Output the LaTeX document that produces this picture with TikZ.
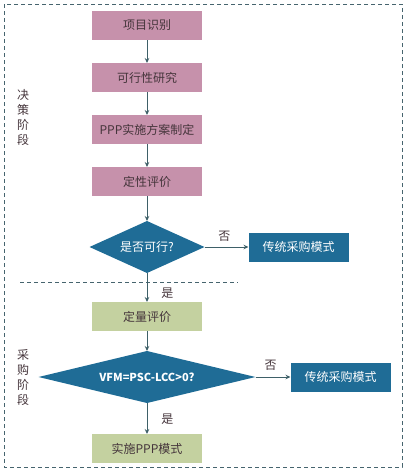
\documentclass[tikz,border=0pt]{standalone}
\usepackage{fontspec}
\setmainfont{Noto Sans CJK SC}
\usepackage{tikz}
\usepackage{xcolor}
\usetikzlibrary{arrows.meta, positioning, shapes.geometric}

\definecolor{pinkbox}{HTML}{C691AB}
\definecolor{greenbox}{HTML}{C4D1A0}
\definecolor{bluebox}{HTML}{1F6C96}
\definecolor{textdark}{HTML}{45353B}
\definecolor{linecol}{HTML}{3E6068}
\definecolor{framecol}{HTML}{46646E}

\begin{document}
\begin{tikzpicture}[
  x=1pt, y=1pt,
  node distance=23pt and 44pt,
  box/.style={rectangle, minimum width=110pt, minimum height=29pt, inner sep=0pt,
              outer sep=0pt, font=\fontsize{12}{14}\selectfont, text=textdark},
  pinkb/.style={box, fill=pinkbox},
  greenb/.style={box, fill=greenbox},
  blueb/.style={box, fill=bluebox, text=white, minimum width=100pt},
  dec/.style={diamond, fill=bluebox, text=white, inner sep=0pt, outer sep=0pt,
              aspect=2.2, font=\fontsize{12}{14}\selectfont},
  arr/.style={-{Stealth[length=5pt, width=4.5pt]}, line width=0.9pt, draw=linecol},
  lbl/.style={font=\fontsize{12}{15}\selectfont, text=textdark, inner sep=0pt},
  frame/.style={draw=framecol, line width=0.8pt, dash pattern=on 4pt off 3pt}
]
  \useasboundingbox (0,0) rectangle (405,-471);
  \draw[frame] (4,-4) rectangle (402,-467);
  \draw[frame] (20,-282) -- (238,-282);

  \node[pinkb] (ident) at (147,-25.5) {项目识别};
  \node[pinkb, below=of ident] (feas) {可行性研究};
  \node[pinkb, below=of feas] (plan) {PPP实施方案制定};
  \node[pinkb, below=of plan] (qual) {定性评价};
  \node[dec, minimum width=115pt, minimum height=52pt, below=25pt of qual] (viable)
    {是否可行?};
  \node[blueb, right=of viable] (trad1) {传统采购模式};
  \node[greenb, below=29pt of viable] (quant) {定量评价};
  \node[dec, minimum width=217pt, minimum height=50pt, below=20pt of quant,
        font=\fontsize{11}{13}\selectfont\bfseries] (vfm) {VFM=PSC-LCC>0?};
  \node[blueb, right=35pt of vfm] (trad2) {传统采购模式};
  \node[greenb, below=31pt of vfm] (impl) {实施PPP模式};

  \node[lbl, align=center] (decide) at (23,-117.5) {决\\策\\阶\\段};
  \node[lbl, align=center] (buy) at (23,-377.5) {采\\购\\阶\\段};

  \draw[arr] (ident) -- (feas);
  \draw[arr] (feas) -- (plan);
  \draw[arr] (plan) -- (qual);
  \draw[arr] (qual) -- (viable);
  \draw[arr] (viable) -- node[lbl, above=5pt, pos=0.45] {否} (trad1);
  \draw[arr] (viable) -- node[lbl, right=14pt, pos=0.68] {是} (quant);
  \draw[arr] (quant) -- (vfm);
  \draw[arr] (vfm) -- node[lbl, above=6pt, pos=0.43] {否} (trad2);
  \draw[arr] (vfm) -- node[lbl, right=14pt, pos=0.52] {是} (impl);
\end{tikzpicture}
\end{document}
